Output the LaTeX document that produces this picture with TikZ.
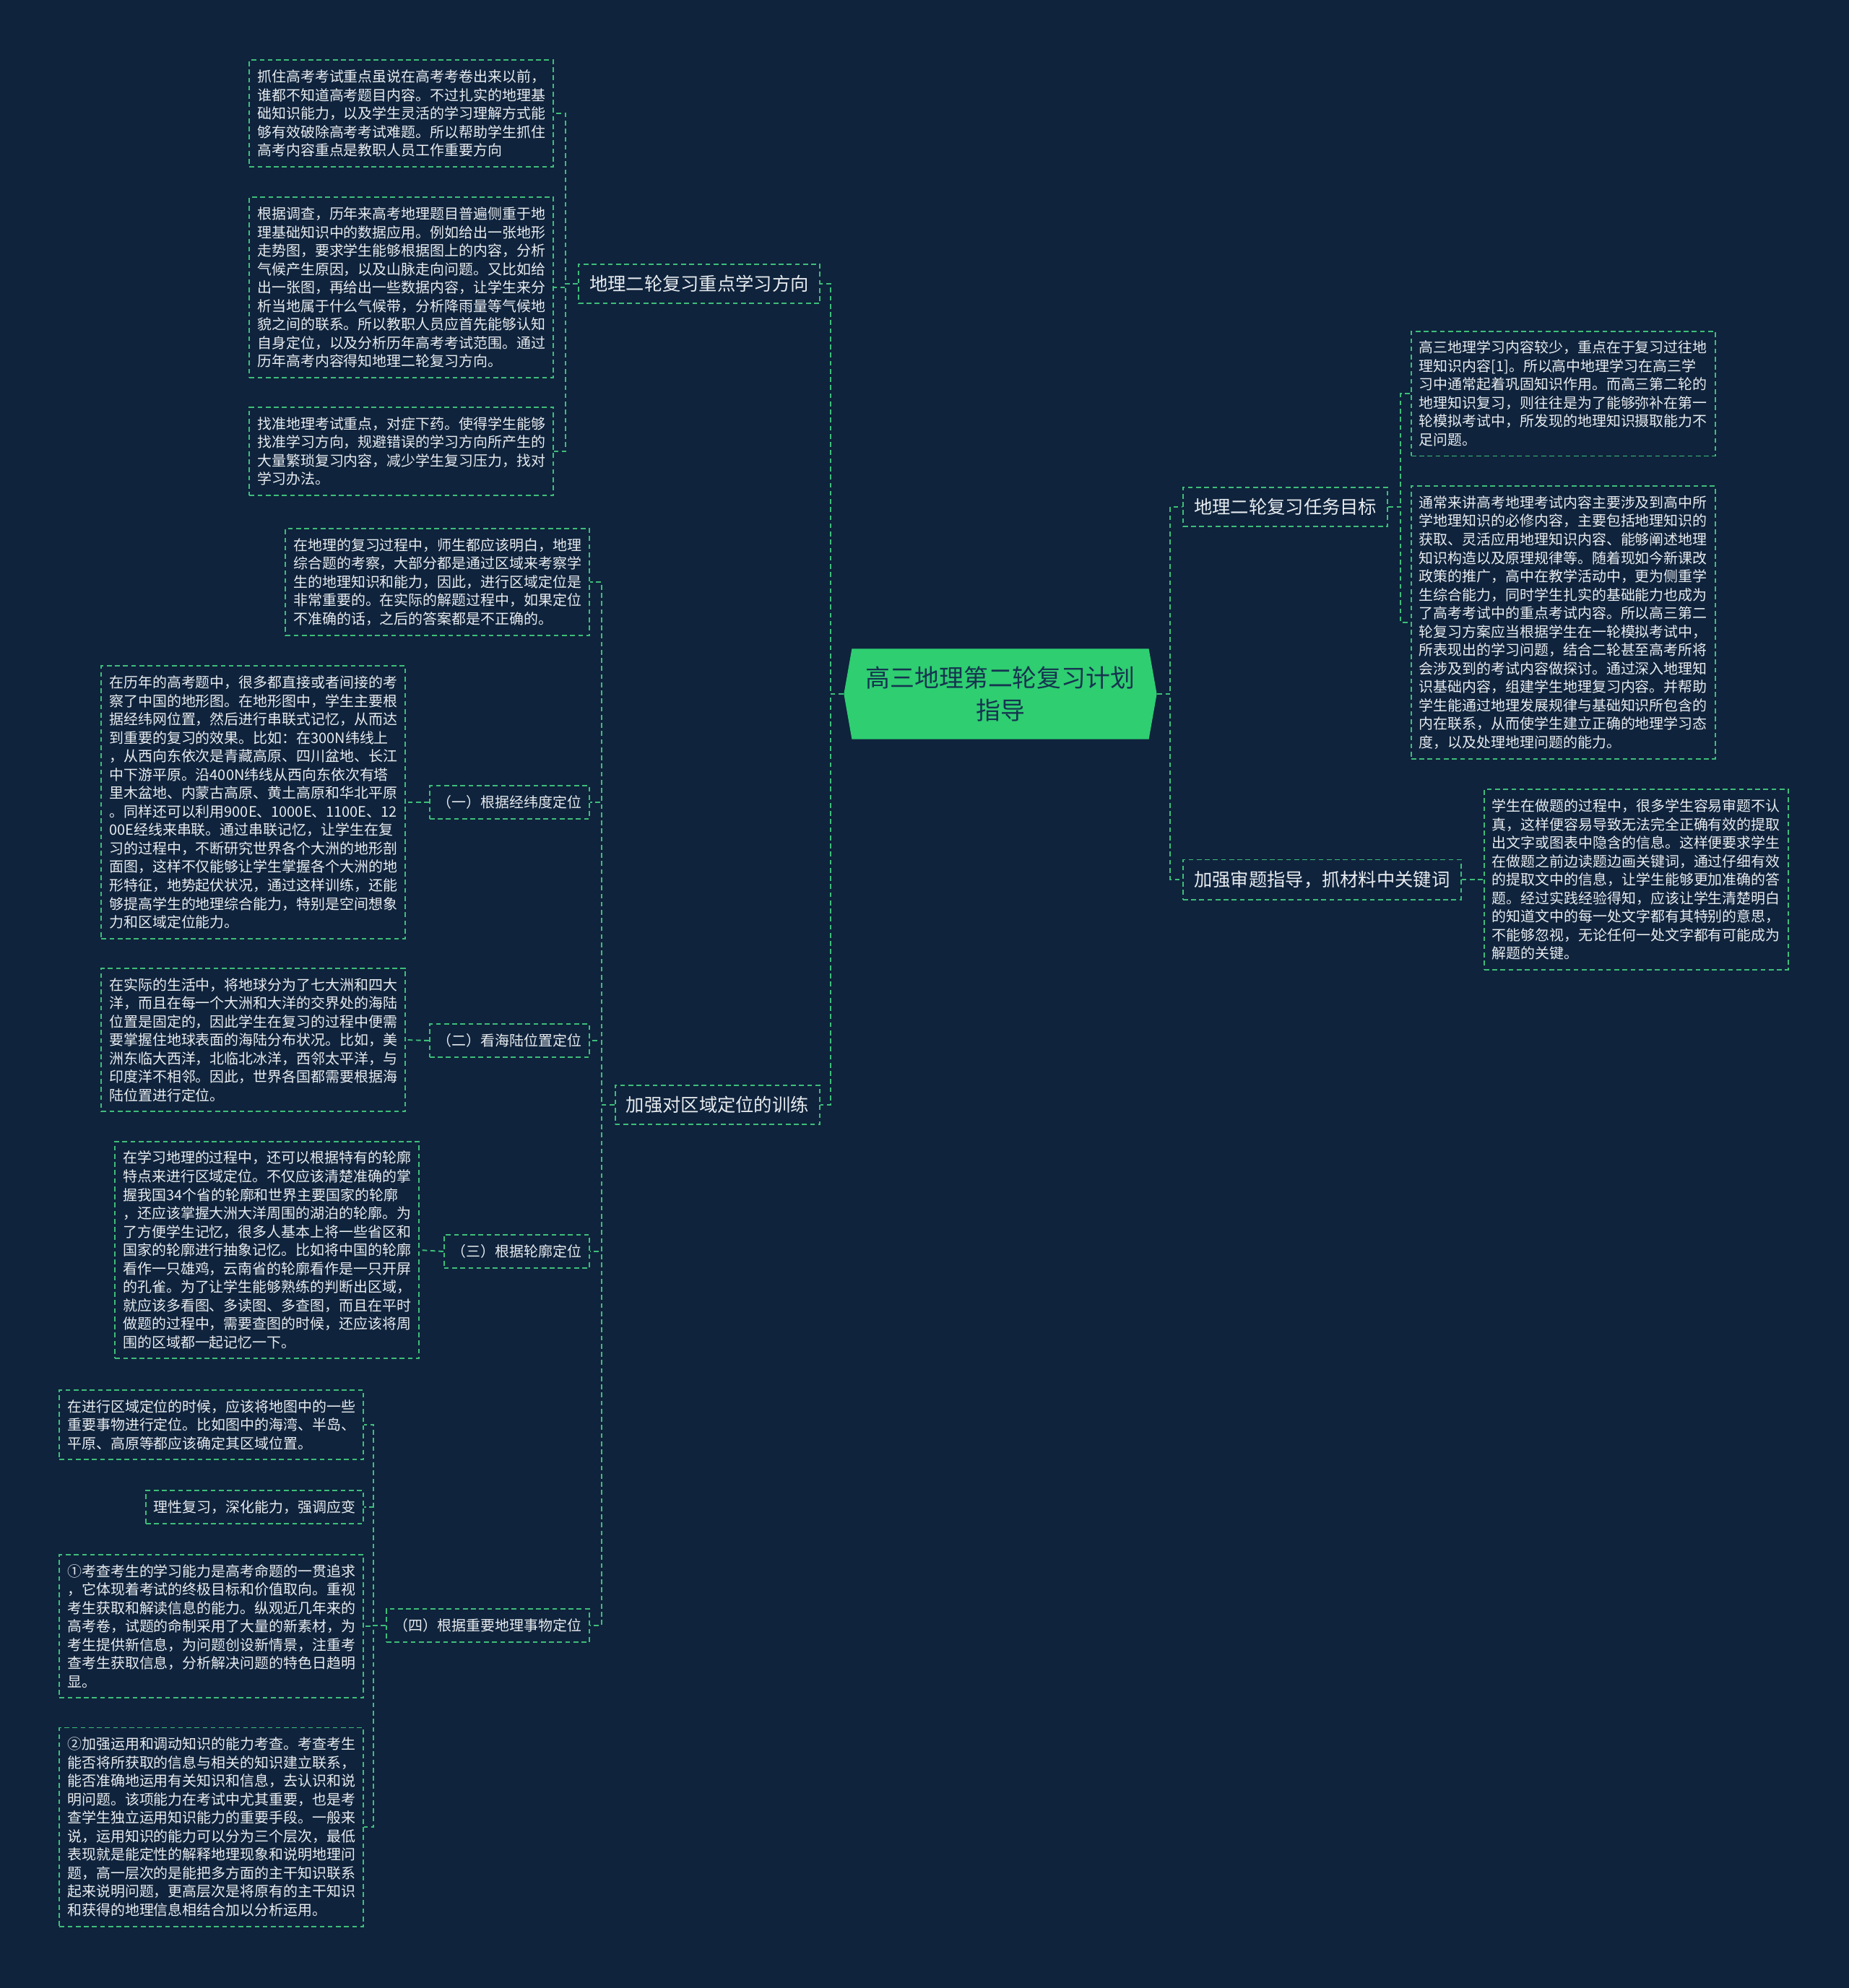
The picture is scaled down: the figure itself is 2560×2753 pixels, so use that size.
\documentclass[tikz,border=0pt]{standalone}
\usepackage{fontspec}
\setmainfont{Noto Sans CJK SC}
\usetikzlibrary{shapes.symbols}
\definecolor{bgc}{RGB}{15,35,60}
\definecolor{lnc}{RGB}{62,190,122}
\definecolor{txc}{RGB}{232,236,240}
\definecolor{hubc}{RGB}{46,206,113}
\definecolor{hubtx}{RGB}{22,52,80}
\newcommand\leafsize{\fontsize{5.67pt}{7.26pt}\selectfont}
\newcommand\branchsize{\fontsize{7.2pt}{9pt}\selectfont}
\newcommand\hubsize{\fontsize{9.65pt}{13pt}\selectfont}
\tikzset{
  link/.style={draw=lnc, line width=0.55pt, dash pattern=on 1.9pt off 1.3pt},
  leaf/.style={link, fill=bgc, text=txc, font=\leafsize, align=left, inner xsep=3.1pt, inner ysep=3.8pt},
  branch/.style={link, fill=bgc, text=txc, font=\branchsize, inner xsep=4.3pt, inner ysep=4.4pt},
  hub/.style={signal, signal to=west and east, signal pointer angle=160, fill=hubc, text=hubtx, font=\hubsize, align=center, minimum width=4.33cm, minimum height=1.25cm, inner sep=0pt}
}
\begin{document}
\begin{tikzpicture}[x=0.01cm,y=-0.01cm]
  \fill[bgc] (0,0) rectangle (2560,2753);
  \useasboundingbox (0,0) rectangle (2560,2753);
  % centre and main branches
  \node[hub] (c) at (1385,961) {高三地理第二轮复习计划\\指导};
  \node[branch, anchor=east] (b1) at (1136,393) {地理二轮复习重点学习方向};
  \node[branch, anchor=east] (b2) at (1136,1530) {加强对区域定位的训练};
  \node[branch, anchor=west] (rb1) at (1637,702) {地理二轮复习任务目标};
  \node[branch, anchor=west] (rb2) at (1637,1218) {加强审题指导，抓材料中关键词};
  % left upper branch
  \node[leaf, anchor=east] (l1) at (767,157) {抓住高考考试重点虽说在高考考卷出来以前，\\谁都不知道高考题目内容。不过扎实的地理基\\础知识能力，以及学生灵活的学习理解方式能\\够有效破除高考考试难题。所以帮助学生抓住\\高考内容重点是教职人员工作重要方向};
  \node[leaf, anchor=east] (l2) at (767,398) {根据调查，历年来高考地理题目普遍侧重于地\\理基础知识中的数据应用。例如给出一张地形\\走势图，要求学生能够根据图上的内容，分析\\气候产生原因，以及山脉走向问题。又比如给\\出一张图，再给出一些数据内容，让学生来分\\析当地属于什么气候带，分析降雨量等气候地\\貌之间的联系。所以教职人员应首先能够认知\\自身定位，以及分析历年高考考试范围。通过\\历年高考内容得知地理二轮复习方向。};
  \node[leaf, anchor=east] (l3) at (767,625) {找准地理考试重点，对症下药。使得学生能够\\找准学习方向，规避错误的学习方向所产生的\\大量繁琐复习内容，减少学生复习压力，找对\\学习办法。};
  % left lower branch
  \node[leaf, anchor=east] (a0) at (817,806) {在地理的复习过程中，师生都应该明白，地理\\综合题的考察，大部分都是通过区域来考察学\\生的地理知识和能力，因此，进行区域定位是\\非常重要的。在实际的解题过程中，如果定位\\不准确的话，之后的答案都是不正确的。};
  \node[leaf, anchor=east] (s1) at (817,1111) {（一）根据经纬度定位};
  \node[leaf, anchor=east] (s2) at (817,1441) {（二）看海陆位置定位};
  \node[leaf, anchor=east] (s3) at (817,1733) {（三）根据轮廓定位};
  \node[leaf, anchor=east] (s4) at (817,2251) {（四）根据重要地理事物定位};
  \node[leaf, anchor=east] (t1) at (562,1111) {在历年的高考题中，很多都直接或者间接的考\\察了中国的地形图。在地形图中，学生主要根\\据经纬网位置，然后进行串联式记忆，从而达\\到重要的复习的效果。比如：在300N纬线上\\，从西向东依次是青藏高原、四川盆地、长江\\中下游平原。沿400N纬线从西向东依次有塔\\里木盆地、内蒙古高原、黄土高原和华北平原\\。同样还可以利用900E、1000E、1100E、12\\00E经线来串联。通过串联记忆，让学生在复\\习的过程中，不断研究世界各个大洲的地形剖\\面图，这样不仅能够让学生掌握各个大洲的地\\形特征，地势起伏状况，通过这样训练，还能\\够提高学生的地理综合能力，特别是空间想象\\力和区域定位能力。};
  \node[leaf, anchor=east] (t2) at (562,1440) {在实际的生活中，将地球分为了七大洲和四大\\洋，而且在每一个大洲和大洋的交界处的海陆\\位置是固定的，因此学生在复习的过程中便需\\要掌握住地球表面的海陆分布状况。比如，美\\洲东临大西洋，北临北冰洋，西邻太平洋，与\\印度洋不相邻。因此，世界各国都需要根据海\\陆位置进行定位。};
  \node[leaf, anchor=east] (t3) at (581,1731) {在学习地理的过程中，还可以根据特有的轮廓\\特点来进行区域定位。不仅应该清楚准确的掌\\握我国34个省的轮廓和世界主要国家的轮廓\\，还应该掌握大洲大洋周围的湖泊的轮廓。为\\了方便学生记忆，很多人基本上将一些省区和\\国家的轮廓进行抽象记忆。比如将中国的轮廓\\看作一只雄鸡，云南省的轮廓看作是一只开屏\\的孔雀。为了让学生能够熟练的判断出区域，\\就应该多看图、多读图、多查图，而且在平时\\做题的过程中，需要查图的时候，还应该将周\\围的区域都一起记忆一下。};
  \node[leaf, anchor=east] (u1) at (504,1973) {在进行区域定位的时候，应该将地图中的一些\\重要事物进行定位。比如图中的海湾、半岛、\\平原、高原等都应该确定其区域位置。};
  \node[leaf, anchor=east] (u2) at (504,2087) {理性复习，深化能力，强调应变};
  \node[leaf, anchor=east] (u3) at (504,2252) {①考查考生的学习能力是高考命题的一贯追求\\，它体现着考试的终极目标和价值取向。重视\\考生获取和解读信息的能力。纵观近几年来的\\高考卷，试题的命制采用了大量的新素材，为\\考生提供新信息，为问题创设新情景，注重考\\查考生获取信息，分析解决问题的特色日趋明\\显。};
  \node[leaf, anchor=east] (u4) at (504,2530) {②加强运用和调动知识的能力考查。考查考生\\能否将所获取的信息与相关的知识建立联系，\\能否准确地运用有关知识和信息，去认识和说\\明问题。该项能力在考试中尤其重要，也是考\\查学生独立运用知识能力的重要手段。一般来\\说，运用知识的能力可以分为三个层次，最低\\表现就是能定性的解释地理现象和说明地理问\\题，高一层次的是能把多方面的主干知识联系\\起来说明问题，更高层次是将原有的主干知识\\和获得的地理信息相结合加以分析运用。};
  % right side
  \node[leaf, anchor=west] (r1) at (1953,545) {高三地理学习内容较少，重点在于复习过往地\\理知识内容[1]。所以高中地理学习在高三学\\习中通常起着巩固知识作用。而高三第二轮的\\地理知识复习，则往往是为了能够弥补在第一\\轮模拟考试中，所发现的地理知识摄取能力不\\足问题。};
  \node[leaf, anchor=west] (r2) at (1953,862) {通常来讲高考地理考试内容主要涉及到高中所\\学地理知识的必修内容，主要包括地理知识的\\获取、灵活应用地理知识内容、能够阐述地理\\知识构造以及原理规律等。随着现如今新课改\\政策的推广，高中在教学活动中，更为侧重学\\生综合能力，同时学生扎实的基础能力也成为\\了高考考试中的重点考试内容。所以高三第二\\轮复习方案应当根据学生在一轮模拟考试中，\\所表现出的学习问题，结合二轮甚至高考所将\\会涉及到的考试内容做探讨。通过深入地理知\\识基础内容，组建学生地理复习内容。并帮助\\学生能通过地理发展规律与基础知识所包含的\\内在联系，从而使学生建立正确的地理学习态\\度，以及处理地理问题的能力。};
  \node[leaf, anchor=west] (r3) at (2054,1218) {学生在做题的过程中，很多学生容易审题不认\\真，这样便容易导致无法完全正确有效的提取\\出文字或图表中隐含的信息。这样便要求学生\\在做题之前边读题边画关键词，通过仔细有效\\的提取文中的信息，让学生能够更加准确的答\\题。经过实践经验得知，应该让学生清楚明白\\的知道文中的每一处文字都有其特别的意思，\\不能够忽视，无论任何一处文字都有可能成为\\解题的关键。};
  % connectors
  \draw[link] (c.west) -- ++(-18,0) |- (b1.east);
  \draw[link] (c.west) -- ++(-18,0) |- (b2.east);
  \draw[link] (c.east) -- ++(18,0) |- (rb1.west);
  \draw[link] (c.east) -- ++(18,0) |- (rb2.west);
  \foreach \n in {l1,l2,l3}
    \draw[link] (b1.west) -- ++(-17,0) |- (\n.east);
  \foreach \n in {a0,s1,s2,s3,s4}
    \draw[link] (b2.west) -- ++(-18,0) |- (\n.east);
  \draw[link] (s1.west) -- (t1.east);
  \draw[link] (s2.west) -- (t2.east);
  \draw[link] (s3.west) -- (t3.east);
  \foreach \n in {u1,u2,u3,u4}
    \draw[link] (s4.west) -- ++(-17,0) |- (\n.east);
  \foreach \n in {r1,r2}
    \draw[link] (rb1.east) -- ++(17,0) |- (\n.west);
  \draw[link] (rb2.east) -- (r3.west);
\end{tikzpicture}
\end{document}
